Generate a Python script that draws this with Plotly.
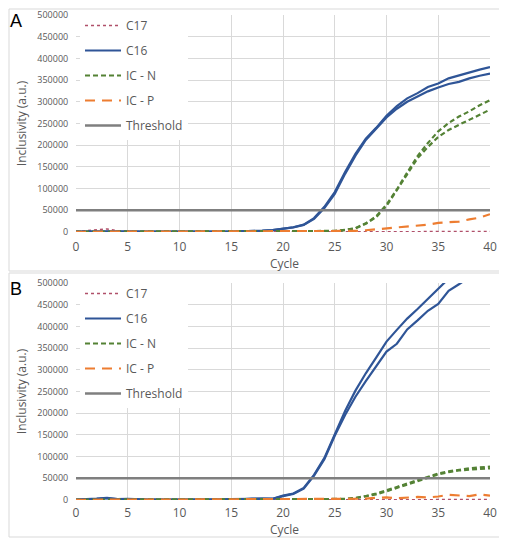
import plotly.graph_objects as go

cycles = list(range(41))
threshold = 50000

# panel A
a_c17 = [1000, 3000, 5000, 7000, 3000, 1500, 1000, 800, 700, 600, 600, 500, 600, 500, 600, 500, 500, 600, 500, 600,
         500, 600, 500, 500, 600, 500, 600, 500, 700, 600, 700, 800, 700, 800, 900, 800, 1000, 900, 1000, 1100, 1200]
a_c16_1 = [1000, 1500, 2000, 2500, 1500, 1000, 800, 1200, 1500, 1000, 800, 700, 900, 1000, 800, 900, 1200, 2000, 3000, 4500,
           7000, 11000, 17000, 32000, 58000, 92000, 138000, 180000, 215000, 240000, 268000, 290000, 308000, 320000, 334000,
           342000, 354000, 361000, 368000, 374000, 380000]
a_c16_2 = [800, 1200, 1800, 2000, 1200, 900, 700, 1000, 2000, 900, 700, 600, 800, 900, 700, 800, 1000, 1800, 2800, 4200,
           6500, 10500, 16000, 30000, 55000, 88000, 134000, 176000, 212000, 238000, 264000, 284000, 300000, 312000, 324000,
           333000, 341000, 346000, 354000, 360000, 365000]
a_icn_1 = [500, 800, 1000, 1200, 900, 800, 700, 800, 900, 700, 600, 700, 800, 700, 600, 700, 800, 700, 800, 900,
           1000, 1100, 1200, 1300, 1500, 2500, 5000, 9000, 20000, 36000, 63000, 98000, 137000, 175000, 205000,
           232000, 251000, 266000, 278000, 292000, 304000]
a_icn_2 = [400, 700, 900, 1000, 800, 700, 600, 700, 800, 600, 500, 600, 700, 600, 500, 600, 700, 600, 700, 800,
           900, 1000, 1100, 1200, 1400, 2000, 4500, 8000, 19000, 34000, 60000, 95000, 133000, 170000, 196000,
           219000, 235000, 247000, 258000, 270000, 282000]
a_icp = [600, 900, 1200, 1500, 1000, 800, 700, 800, 900, 700, 600, 700, 800, 700, 600, 700, 800, 700, 800, 900,
         1000, 1100, 1200, 1300, 1400, 1600, 2000, 2500, 4000, 6000, 8000, 10000, 12000, 14000, 17000,
         21000, 22000, 24000, 29000, 33000, 41000]

# panel B
b_c17 = [800, 1500, 3000, 4000, 2000, 1500, 1000, 800, 700, 600, 600, 500, 600, 500, 600, 700, 600, 600, 500, 600,
         500, 600, 500, 500, 600, 500, 600, 500, 700, 600, 700, 800, 700, 800, 900, 800, 1000, 900, 1000, 1100, 1200]
b_c16_1 = [1000, 1500, 3000, 5000, 2000, 2500, 1000, 800, 900, 800, 700, 800, 900, 1000, 1500, 2000, 1500, 3000, 3500, 3000,
           10000, 15000, 28000, 58000, 97000, 150000, 205000, 252000, 292000, 328000, 365000, 392000, 418000, 440000,
           463000, 488000, 510000, 530000, 550000, 565000, 580000]
b_c16_2 = [900, 1200, 2500, 4000, 1800, 2000, 900, 700, 800, 700, 600, 700, 800, 900, 1200, 1800, 1300, 2500, 3000, 2800,
           9000, 14000, 26000, 56000, 94000, 148000, 196000, 238000, 274000, 308000, 342000, 360000, 393000, 414000,
           436000, 452000, 482000, 497000, 515000, 530000, 545000]
b_icn_1 = [500, 800, 1000, 1200, 900, 800, 700, 800, 900, 700, 600, 700, 800, 700, 600, 700, 800, 700, 800, 900,
           900, 1000, 1000, 1100, 1200, 1500, 2500, 5000, 9000, 15000, 22000, 30000, 38000, 46000, 54000,
           61000, 66000, 70000, 73000, 75000, 77000]
b_icn_2 = [400, 700, 900, 1000, 800, 700, 600, 700, 800, 600, 500, 600, 700, 600, 500, 600, 700, 600, 700, 800,
           800, 900, 900, 1000, 1100, 1300, 2000, 4000, 8000, 13000, 20000, 28000, 36000, 44000, 52000,
           59000, 64000, 68000, 70000, 72000, 73000]
b_icp = [600, 900, 1200, 1500, 1000, 800, 700, 800, 900, 700, 600, 700, 800, 700, 600, 700, 800, 700, 800, 900,
         1000, 1100, 1000, 1200, 1300, 1400, 1500, 2000, 3000, 5000, 6000, 4000, 5000, 7000, 6000,
         8000, 12000, 11000, 9000, 13000, 10000]

y_ticks = list(range(0, 500001, 50000))
x_ticks = list(range(0, 41, 5))

BLUE = "#2F5597"
GREEN = "#548235"
ORANGE = "#ED7D31"
GRAY = "#7F7F7F"
RED = "#B0506A"
TXT = "#595959"

fig = go.Figure()


def add_panel(xa, ya, leg, c17, c16_1, c16_2, icn_1, icn_2, icp):
    series = [
        ("C17", [c17], dict(color=RED, width=1.5, dash="dot")),
        ("C16", [c16_1, c16_2], dict(color=BLUE, width=2.2)),
        ("IC - N", [icn_1, icn_2], dict(color=GREEN, width=2.2, dash="5px,3px")),
        ("IC - P", [icp], dict(color=ORANGE, width=2.2, dash="10px,7px")),
        ("Threshold", [[threshold] * len(cycles)], dict(color=GRAY, width=2.5)),
    ]
    for name, ys, line in series:
        for i, y in enumerate(ys):
            fig.add_trace(go.Scatter(
                x=cycles, y=y, mode="lines", name=name, line=line,
                xaxis=xa, yaxis=ya, legend=leg, legendgroup=leg + name,
                showlegend=(i == 0)
            ))


add_panel("x", "y", "legend", a_c17, a_c16_1, a_c16_2, a_icn_1, a_icn_2, a_icp)
add_panel("x2", "y2", "legend2", b_c17, b_c16_1, b_c16_2, b_icn_1, b_icn_2, b_icp)

# the page puts the figure 8px in from the window's corner
OFF = 8
W, H = 499, 530


def px(x):
    return (x - OFF) / W


def py(y):
    return 1 - (y - OFF) / H


axis_x = dict(range=[0, 40], tickvals=x_ticks, showgrid=True, gridcolor="#D9D9D9",
              zeroline=False, showline=False, automargin=False, ticks="",
              anchor="free",
              tickfont=dict(family="Open Sans", size=12, color=TXT))
axis_y = dict(range=[0, 500000], tickvals=y_ticks, showgrid=True, gridcolor="#D9D9D9",
              zeroline=False, showline=False, tickformat="d", automargin=False,
              ticks="outside", ticklen=5, tickcolor="rgba(0,0,0,0)",
              tickfont=dict(family="Open Sans", size=9, color=TXT),
              title=dict(text="Inclusivity (a.u.)", font=dict(family="Open Sans", size=12, color=TXT),
                         standoff=8))

legend_style = dict(bgcolor="white", borderwidth=0, xanchor="left", yanchor="top",
                    font=dict(family="Open Sans", size=12, color=TXT),
                    tracegroupgap=6, itemwidth=36)

title_font = dict(family="Open Sans", size=12, color=TXT)
panel_font = dict(family="Liberation Sans", size=18, color="black")


def label(text, x, y, font):
    return dict(text=text, x=px(x), y=py(y), xref="paper", yref="paper", showarrow=False,
                xanchor="center", yanchor="middle", font=font)


fig.update_layout(
    width=W, height=H, margin=dict(l=0, r=0, t=0, b=0),
    paper_bgcolor="white", plot_bgcolor="white",
    xaxis=dict(axis_x, domain=[px(76), px(490)], position=py(238)),
    yaxis=dict(axis_y, domain=[py(232), py(15)], anchor="x"),
    xaxis2=dict(axis_x, domain=[px(76), px(490)], position=py(504)),
    yaxis2=dict(axis_y, domain=[py(500), py(283)], anchor="x2"),
    legend=dict(legend_style, x=px(80), y=py(11)),
    legend2=dict(legend_style, x=px(80), y=py(279)),
    shapes=[
        dict(type="rect", xref="paper", yref="paper", x0=px(9), x1=px(505), y0=py(271), y1=py(9),
             line=dict(color="#D9D9D9", width=1)),
        dict(type="rect", xref="paper", yref="paper", x0=px(9), x1=px(505), y0=py(537), y1=py(273),
             line=dict(color="#D9D9D9", width=1)),
    ],
    annotations=[
        label("A", 16, 21, panel_font),
        label("B", 16, 289, panel_font),
        label("Cycle", 284, 263, title_font),
        label("Cycle", 284, 529, title_font),
    ],
)

fig.write_html("out.html")
